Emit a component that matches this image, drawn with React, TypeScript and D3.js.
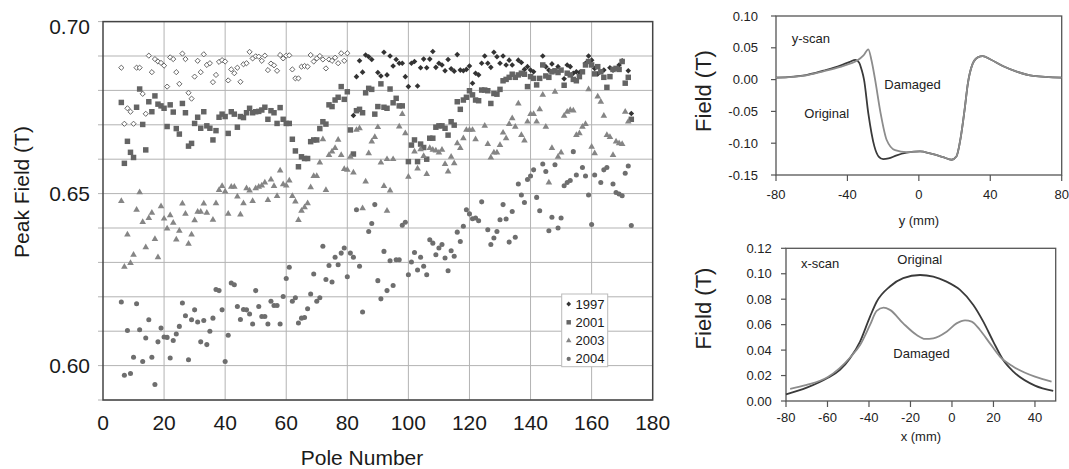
import React from "react";
import * as d3 from "d3";

const FONT = '"Liberation Sans", Arial, Helvetica, sans-serif';

// ---------- Left chart: Peak field vs pole number ----------
const yearLabels = ["1997", "2001", "2003", "2004"];

const field1997Open: [number, number][] = [
  [6, 0.6866], [7, 0.6703], [8, 0.6748], [9, 0.6738], [10, 0.6703], [11, 0.6866], [12, 0.6866], [13, 0.679],
  [14, 0.6732], [15, 0.6901], [16, 0.6853], [17, 0.6891], [18, 0.6884], [19, 0.688], [20, 0.6872], [21, 0.6811],
  [22, 0.6896], [23, 0.6891], [24, 0.6853], [25, 0.6819], [26, 0.6907], [27, 0.6891], [28, 0.6793], [29, 0.6776],
  [30, 0.684], [31, 0.6886], [32, 0.6853], [33, 0.6905], [34, 0.6874], [35, 0.6879], [36, 0.6824], [37, 0.6845],
  [38, 0.6883], [39, 0.6888], [40, 0.6884], [41, 0.6829], [42, 0.6861], [43, 0.685], [44, 0.6866], [45, 0.6825],
  [46, 0.6876], [47, 0.6879], [48, 0.6912], [49, 0.6893], [50, 0.6899], [51, 0.6898], [52, 0.6886], [53, 0.6901],
  [54, 0.6859], [55, 0.6878], [56, 0.6873], [57, 0.6857], [58, 0.6903], [59, 0.6893], [60, 0.6901], [61, 0.6902],
  [62, 0.6861], [63, 0.6835], [64, 0.6835], [65, 0.6869], [66, 0.6871], [67, 0.6869], [68, 0.6903], [69, 0.6884],
  [70, 0.6893], [71, 0.69], [72, 0.689], [73, 0.6864], [74, 0.689], [75, 0.6886], [76, 0.6895], [77, 0.6879],
  [78, 0.6908], [79, 0.6886], [80, 0.6908],
];

const field1997: [number, number][] = [
  [82, 0.6727], [83, 0.684], [84, 0.6886], [85, 0.6853], [86, 0.6903], [87, 0.6898], [88, 0.689], [90, 0.6852],
  [91, 0.6842], [92, 0.6911], [93, 0.6845], [94, 0.69], [95, 0.6871], [96, 0.689], [97, 0.6879], [98, 0.6879],
  [99, 0.684], [100, 0.6811], [101, 0.6879], [102, 0.6884], [103, 0.6813], [104, 0.6866], [105, 0.6891], [106, 0.6866],
  [107, 0.6891], [108, 0.6913], [109, 0.6867], [110, 0.6879], [111, 0.6874], [112, 0.6857], [113, 0.689], [114, 0.6863],
  [115, 0.6856], [116, 0.6904], [117, 0.6859], [118, 0.6857], [119, 0.6861], [120, 0.6871], [121, 0.6821], [122, 0.685],
  [123, 0.6845], [124, 0.6879], [125, 0.69], [126, 0.6879], [127, 0.6867], [128, 0.6911], [129, 0.6898], [130, 0.6879],
  [131, 0.69], [132, 0.6874], [133, 0.6888], [134, 0.6874], [136, 0.6888], [137, 0.6881], [138, 0.6861], [139, 0.6869],
  [140, 0.6859], [141, 0.6854], [144, 0.69], [145, 0.6869], [146, 0.6859], [147, 0.6877], [149, 0.6869], [151, 0.6834],
  [152, 0.6874], [153, 0.6869], [154, 0.685], [155, 0.6854], [156, 0.6852], [158, 0.6879], [159, 0.69], [160, 0.6888],
  [161, 0.6864], [162, 0.6848], [164, 0.6859], [166, 0.6866], [167, 0.6859], [169, 0.6874], [170, 0.6886], [172, 0.6857],
  [173, 0.6733],
];

const field2001: [number, number][] = [
  [6, 0.6765], [7, 0.6588], [8, 0.6652], [9, 0.662], [10, 0.6605], [11, 0.6751], [12, 0.6804], [13, 0.6701],
  [14, 0.6627], [15, 0.6767], [16, 0.6738], [17, 0.6784], [18, 0.676], [19, 0.6755], [20, 0.6748], [21, 0.6695],
  [22, 0.6758], [23, 0.6737], [24, 0.6689], [25, 0.6673], [26, 0.6762], [27, 0.6735], [28, 0.6638], [29, 0.6646],
  [30, 0.6704], [31, 0.6722], [32, 0.669], [33, 0.6738], [34, 0.6697], [35, 0.669], [36, 0.6656], [37, 0.6683],
  [38, 0.6722], [39, 0.6731], [40, 0.6724], [41, 0.6675], [42, 0.6738], [43, 0.6731], [44, 0.6693], [45, 0.6724],
  [46, 0.6721], [47, 0.6735], [48, 0.6748], [49, 0.6735], [50, 0.6738], [51, 0.6739], [52, 0.6743], [53, 0.6751],
  [54, 0.6716], [55, 0.6741], [56, 0.6735], [57, 0.6704], [58, 0.675], [59, 0.6716], [60, 0.6704], [61, 0.6704],
  [62, 0.6658], [63, 0.6624], [64, 0.6578], [65, 0.6607], [66, 0.6602], [67, 0.6602], [68, 0.6651], [69, 0.6656],
  [70, 0.6656], [71, 0.6689], [72, 0.6709], [73, 0.6702], [74, 0.6758], [75, 0.6753], [76, 0.6772], [77, 0.678],
  [78, 0.6811], [79, 0.6774], [80, 0.6796], [81, 0.6685], [82, 0.6615], [83, 0.6741], [84, 0.6745], [85, 0.6735],
  [86, 0.6793], [87, 0.6806], [88, 0.6803], [89, 0.6731], [90, 0.6753], [91, 0.6819], [92, 0.6751], [93, 0.6748],
  [94, 0.6804], [95, 0.6764], [96, 0.6777], [97, 0.6755], [98, 0.6755], [100, 0.6593], [101, 0.6641], [102, 0.6656],
  [103, 0.6593], [104, 0.6644], [105, 0.6634], [106, 0.66], [107, 0.6661], [108, 0.6661], [109, 0.6693], [110, 0.6697],
  [111, 0.6697], [112, 0.669], [113, 0.667], [114, 0.6709], [115, 0.6699], [116, 0.6767], [117, 0.6745], [118, 0.6772],
  [119, 0.678], [120, 0.6799], [121, 0.6787], [122, 0.6772], [123, 0.677], [124, 0.6801], [125, 0.6801], [126, 0.6799],
  [127, 0.6762], [128, 0.6791], [129, 0.6789], [130, 0.6803], [131, 0.6828], [132, 0.6832], [133, 0.6838], [134, 0.6847],
  [135, 0.6838], [136, 0.6845], [137, 0.685], [138, 0.6847], [139, 0.6811], [140, 0.684], [141, 0.6835], [142, 0.6816],
  [143, 0.6835], [144, 0.6874], [145, 0.6842], [146, 0.6838], [147, 0.6854], [148, 0.6857], [149, 0.6852], [150, 0.6859],
  [151, 0.6815], [152, 0.685], [153, 0.6845], [154, 0.6832], [155, 0.6828], [156, 0.684], [157, 0.6854], [158, 0.6874],
  [159, 0.6884], [160, 0.6874], [161, 0.6848], [162, 0.6869], [163, 0.6854], [164, 0.6838], [165, 0.6809], [166, 0.684],
  [167, 0.6861], [168, 0.6864], [169, 0.6861], [170, 0.6884], [171, 0.6821], [172, 0.6838], [173, 0.6716],
];

const field2003: [number, number][] = [
  [6, 0.6478], [7, 0.6287], [8, 0.6381], [9, 0.6298], [10, 0.6322], [11, 0.6453], [12, 0.6504], [13, 0.6417],
  [14, 0.6344], [15, 0.6429], [16, 0.6444], [17, 0.6368], [18, 0.6315], [19, 0.6463], [20, 0.6427], [21, 0.6398],
  [22, 0.6437], [23, 0.6415], [24, 0.6366], [25, 0.6392], [26, 0.6471], [27, 0.6441], [28, 0.6354], [29, 0.6381],
  [30, 0.6422], [31, 0.6447], [32, 0.6447], [33, 0.6471], [34, 0.6444], [36, 0.6424], [37, 0.6472], [38, 0.651],
  [39, 0.6522], [40, 0.6506], [41, 0.6441], [42, 0.652], [43, 0.652], [44, 0.6491], [45, 0.6439], [46, 0.6472],
  [47, 0.6515], [48, 0.6509], [49, 0.6478], [50, 0.6515], [51, 0.652], [52, 0.6523], [53, 0.6532], [54, 0.6481],
  [55, 0.6541], [56, 0.6522], [57, 0.6493], [58, 0.6567], [59, 0.6527], [60, 0.6523], [61, 0.6538], [62, 0.6493],
  [63, 0.6477], [64, 0.6423], [65, 0.645], [66, 0.646], [67, 0.6472], [68, 0.6518], [69, 0.6551], [70, 0.6551],
  [71, 0.659], [72, 0.6658], [73, 0.651], [74, 0.6612], [75, 0.6622], [76, 0.6632], [77, 0.6656], [78, 0.6612],
  [79, 0.6571], [80, 0.6569], [81, 0.6607], [82, 0.6561], [83, 0.6685], [84, 0.669], [85, 0.6457], [86, 0.6535],
  [87, 0.6617], [88, 0.6651], [89, 0.6664], [90, 0.6693], [91, 0.659], [92, 0.6522], [93, 0.66], [93, 0.645],
  [94, 0.6509], [95, 0.66], [97, 0.6695], [98, 0.6731], [99, 0.6675], [100, 0.6549], [102, 0.6622], [103, 0.6573],
  [104, 0.6629], [105, 0.6609], [106, 0.6557], [107, 0.6632], [108, 0.6627], [109, 0.6625], [110, 0.6619], [111, 0.6627],
  [112, 0.6586], [113, 0.6564], [114, 0.6607], [115, 0.6588], [116, 0.6646], [117, 0.6632], [118, 0.6661], [119, 0.6685],
  [120, 0.6685], [121, 0.6685], [122, 0.6658], [125, 0.6697], [126, 0.6644], [127, 0.6605], [128, 0.6619], [129, 0.6619],
  [130, 0.6641], [131, 0.6677], [132, 0.6661], [133, 0.6702], [134, 0.6719], [135, 0.6694], [136, 0.6762], [137, 0.667],
  [138, 0.6654], [139, 0.6709], [140, 0.6731], [141, 0.6731], [142, 0.6709], [143, 0.6745], [144, 0.6787], [145, 0.6694],
  [146, 0.6532], [147, 0.6632], [148, 0.6796], [149, 0.6607], [150, 0.6619], [151, 0.6726], [152, 0.6738], [153, 0.6743],
  [154, 0.6741], [155, 0.667], [156, 0.6675], [157, 0.6694], [158, 0.6702], [159, 0.6803], [160, 0.6636], [161, 0.6617],
  [162, 0.6782], [163, 0.6767], [164, 0.6726], [165, 0.667], [166, 0.6664], [167, 0.6612], [168, 0.6651], [169, 0.6646],
  [170, 0.6644], [171, 0.6738], [172, 0.6709],
];

const field2004: [number, number][] = [
  [6, 0.6185], [7, 0.5972], [8, 0.6102], [9, 0.5977], [10, 0.6024], [11, 0.618], [12, 0.6104], [13, 0.6012],
  [14, 0.608], [15, 0.6133], [16, 0.6024], [17, 0.5945], [18, 0.6069], [19, 0.6109], [20, 0.6083], [21, 0.6082],
  [22, 0.6022], [23, 0.6073], [24, 0.6092], [25, 0.6114], [26, 0.6182], [27, 0.6145], [28, 0.6017], [29, 0.6133],
  [30, 0.6162], [31, 0.6127], [32, 0.6069], [33, 0.6131], [34, 0.6061], [35, 0.61], [36, 0.6138], [37, 0.6221],
  [38, 0.6218], [39, 0.6162], [40, 0.6012], [41, 0.6088], [42, 0.624], [43, 0.6235], [44, 0.6172], [45, 0.6134],
  [46, 0.6163], [47, 0.6162], [48, 0.615], [49, 0.6121], [50, 0.6218], [51, 0.6172], [52, 0.6143], [53, 0.6143],
  [54, 0.6121], [55, 0.6187], [56, 0.6175], [57, 0.6175], [58, 0.6121], [59, 0.6201], [60, 0.6253], [61, 0.6286],
  [62, 0.6187], [63, 0.6197], [64, 0.6124], [65, 0.6138], [66, 0.614], [67, 0.6165], [68, 0.6208], [69, 0.6266],
  [70, 0.6187], [71, 0.6197], [72, 0.6347], [73, 0.625], [74, 0.6291], [75, 0.6243], [76, 0.6315], [77, 0.6293],
  [78, 0.6327], [79, 0.6342], [80, 0.6258], [81, 0.6327], [82, 0.6315], [83, 0.6453], [84, 0.6289], [85, 0.6156],
  [87, 0.639], [88, 0.6413], [89, 0.6468], [90, 0.6247], [91, 0.6194], [92, 0.6332], [93, 0.6218], [94, 0.6305],
  [95, 0.6233], [96, 0.6308], [97, 0.6308], [98, 0.6408], [99, 0.6417], [100, 0.6264], [101, 0.6301], [102, 0.6329],
  [103, 0.6278], [104, 0.6315], [105, 0.6289], [106, 0.6264], [107, 0.6366], [108, 0.6356], [109, 0.6322], [110, 0.6342],
  [111, 0.6352], [112, 0.6313], [113, 0.6276], [114, 0.6334], [115, 0.6318], [116, 0.6388], [117, 0.6361], [118, 0.6405],
  [119, 0.6453], [120, 0.6441], [121, 0.6427], [122, 0.6429], [123, 0.6421], [124, 0.6476], [126, 0.6395], [127, 0.6352],
  [128, 0.6371], [129, 0.639], [130, 0.6424], [131, 0.6468], [132, 0.6426], [133, 0.6359], [134, 0.6448], [135, 0.6373],
  [136, 0.6528], [137, 0.6496], [138, 0.6474], [139, 0.6541], [140, 0.6551], [141, 0.6569], [142, 0.6489], [143, 0.645],
  [144, 0.6586], [145, 0.6564], [146, 0.6392], [147, 0.6431], [148, 0.6584], [149, 0.64], [150, 0.6429], [151, 0.6523],
  [152, 0.6532], [153, 0.6538], [154, 0.6622], [155, 0.6554], [157, 0.6576], [158, 0.6551], [159, 0.6496], [160, 0.641],
  [161, 0.6554], [163, 0.6532], [164, 0.6569], [165, 0.6576], [167, 0.6528], [168, 0.6503], [169, 0.6499], [170, 0.6494],
  [171, 0.6559], [172, 0.658], [173, 0.6407],
];

const leftYLabels = [0.6, 0.65, 0.7];

// ---------- Right top: y-scan ----------
const yScanOriginal: [number, number][] = [
  [-80, 0.003], [-63, 0.0072], [-53.5, 0.014], [-44, 0.022], [-38.6, 0.028], [-35.5, 0.031], [-33.5, 0.027],
  [-32, 0.015], [-30.7, 0.0], [-28.3, -0.053], [-24.9, -0.105], [-22.5, -0.121], [-20, -0.125], [-17, -0.124],
  [-12.4, -0.119], [-6.8, -0.115], [0.7, -0.113], [6.3, -0.116], [13.7, -0.122], [18.4, -0.126], [21, -0.121],
  [23.5, -0.09], [25.5, -0.05], [27.5, -0.005], [30, 0.024], [33, 0.035], [35.8, 0.037], [39.9, 0.032],
  [47.3, 0.021], [54.8, 0.0125], [64.1, 0.0057], [80, 0.003],
];
const yScanDamaged: [number, number][] = [
  [-80, 0.003], [-63, 0.0068], [-53.5, 0.013], [-44, 0.02], [-38.6, 0.025], [-34.5, 0.03], [-31, 0.038],
  [-28.3, 0.0476], [-26.5, 0.03], [-24.5, 0.0], [-21.4, -0.053], [-18, -0.095], [-13.3, -0.111], [-6.8, -0.114],
  [0.7, -0.113], [6.3, -0.116], [13.7, -0.122], [18.4, -0.126], [21, -0.121], [23.5, -0.09], [25.5, -0.05],
  [27.5, -0.005], [30, 0.024], [33, 0.035], [35.8, 0.037], [39.9, 0.032], [47.3, 0.021], [54.8, 0.0125],
  [64.1, 0.0057], [80, 0.003],
];
const yScanYTicks = [-0.15, -0.1, -0.05, 0, 0.05, 0.1];
const yScanXTicks = [-80, -40, 0, 40, 80];

// ---------- Right bottom: x-scan ----------
const xScanOriginal: [number, number][] = [
  [-80, 0.0052], [-70, 0.0105], [-59.8, 0.0183], [-54, 0.0244], [-49.2, 0.0335], [-44.3, 0.0467], [-39.5, 0.0663],
  [-36.3, 0.078], [-29.9, 0.09], [-23.5, 0.0965], [-15.4, 0.099], [-9, 0.0978], [-2.6, 0.0938], [3.9, 0.0873],
  [10.3, 0.0755], [15.1, 0.0624], [19.9, 0.0467], [24.7, 0.0322], [29.6, 0.0231], [40, 0.0121], [48.8, 0.0079],
];
const xScanDamaged: [number, number][] = [
  [-78, 0.0095], [-70, 0.0126], [-59.8, 0.0189], [-49.2, 0.034], [-44.3, 0.044], [-39.5, 0.0598], [-36.3, 0.0708],
  [-33, 0.0734], [-29.9, 0.0716], [-23.5, 0.061], [-17, 0.0519], [-13, 0.0488], [-9, 0.0493], [-2.6, 0.0545],
  [2.2, 0.061], [6.3, 0.0634], [9.5, 0.0624], [13.5, 0.0558], [18.3, 0.0453], [23.1, 0.0349], [29.6, 0.027],
  [40, 0.0191], [48, 0.0152],
];
const xScanYTicks = [0, 0.02, 0.04, 0.06, 0.08, 0.1, 0.12];
const xScanXTicks = [-80, -60, -40, -20, 0, 20, 40];

const diamondPath = (r: number) => `M0,${-r}L${r},0L0,${r}L${-r},0Z`;

function LeftChart() {
  const x = d3.scaleLinear().domain([0, 180]).range([103, 652.7]);
  const y = d3.scaleLinear().domain([0.59, 0.7]).range([400, 21.6]);
  const yGrid = y.ticks(11);
  const xGrid = x.ticks(9);
  const sq = d3.symbol(d3.symbolSquare, 30)()!;
  const tri = d3.symbol(d3.symbolTriangle, 19)()!;
  const circ = d3.symbol(d3.symbolCircle, 20)()!;
  const dia = diamondPath(2.8);
  const diaOpen = diamondPath(2.6);
  const legendRows = [
    { label: yearLabels[0], path: diamondPath(2.4), fill: "#333" },
    { label: yearLabels[1], path: d3.symbol(d3.symbolSquare, 20)()!, fill: "#666" },
    { label: yearLabels[2], path: d3.symbol(d3.symbolTriangle, 13)()!, fill: "#858585" },
    { label: yearLabels[3], path: d3.symbol(d3.symbolCircle, 14)()!, fill: "#707070" },
  ];
  return (
    <g fontFamily={FONT}>
      {yGrid.map((v) => (
        <line key={"gy" + v} x1={98} x2={x(180)} y1={y(v)} y2={y(v)} stroke="#b3b3b3" strokeWidth={1} />
      ))}
      {xGrid.slice(1, -1).map((v) => (
        <line key={"gx" + v} x1={x(v)} x2={x(v)} y1={y(0.7)} y2={y(0.59)} stroke="#b3b3b3" strokeWidth={1} />
      ))}
      <rect x={x(0)} y={y(0.7)} width={x(180) - x(0)} height={y(0.59) - y(0.7)} fill="none" stroke="#444" strokeWidth={1.5} />
      {field1997Open.map(([p, v], i) => (
        <path key={"o" + i} d={diaOpen} transform={`translate(${x(p)},${y(v)})`} fill="#fff" stroke="#555" strokeWidth={0.9} />
      ))}
      {field1997.map(([p, v], i) => (
        <path key={"a" + i} d={dia} transform={`translate(${x(p)},${y(v)})`} fill="#333" />
      ))}
      {field2001.map(([p, v], i) => (
        <path key={"b" + i} d={sq} transform={`translate(${x(p)},${y(v)})`} fill="#646464" />
      ))}
      {field2003.map(([p, v], i) => (
        <path key={"c" + i} d={tri} transform={`translate(${x(p)},${y(v)})`} fill="#858585" />
      ))}
      {field2004.map(([p, v], i) => (
        <path key={"d" + i} d={circ} transform={`translate(${x(p)},${y(v)})`} fill="#6e6e6e" />
      ))}
      {leftYLabels.map((v) => (
        <text key={"yl" + v} x={90} y={y(v) + (v >= 0.7 ? 12 : 7)} textAnchor="end" fontSize={21} fill="#1a1a1a">
          {v.toFixed(2)}
        </text>
      ))}
      {xGrid.map((v) => (
        <text key={"xl" + v} x={x(v)} y={430} textAnchor="middle" fontSize={21} fill="#1a1a1a">
          {v}
        </text>
      ))}
      <text x={362} y={465} textAnchor="middle" fontSize={21} fill="#1a1a1a">Pole Number</text>
      <text transform="translate(29,192) rotate(-90)" textAnchor="middle" fontSize={21} fill="#1a1a1a">Peak Field (T)</text>
      <rect x={561.7} y={294} width={46} height={72.7} fill="#fff" stroke="#bbb" strokeWidth={1} />
      {legendRows.map((r, i) => (
        <g key={r.label} transform={`translate(0,${304 + i * 18.3})`}>
          <path d={r.path} transform="translate(568.7,0)" fill={r.fill} />
          <text x={575.5} y={4.5} fontSize={13} fill="#1a1a1a">{r.label}</text>
        </g>
      ))}
    </g>
  );
}

type ScanProps = {
  xDomain: [number, number];
  yDomain: [number, number];
  xRange: [number, number];
  yRange: [number, number];
  xTicks: number[];
  yTicks: number[];
  original: [number, number][];
  damaged: [number, number][];
  yLabelX: number;
  xLabelY: number;
  axisLabel: string;
  axisLabelY: number;
  fieldY: number;
  notes: { text: string; x: number; y: number }[];
};

function ScanChart(p: ScanProps) {
  const x = d3.scaleLinear().domain(p.xDomain).range(p.xRange);
  const y = d3.scaleLinear().domain(p.yDomain).range(p.yRange);
  const line = d3
    .line<[number, number]>()
    .x((d) => x(d[0]))
    .y((d) => y(d[1]))
    .curve(d3.curveMonotoneX);
  const [x0, x1] = p.xRange;
  const [yb, yt] = p.yRange;
  return (
    <g fontFamily={FONT}>
      <rect x={x0} y={yt} width={x1 - x0} height={yb - yt} fill="none" stroke="#555" strokeWidth={1.3} />
      {p.yTicks.map((v) => (
        <g key={"yt" + v}>
          <line x1={x0 - 5} x2={x0} y1={y(v)} y2={y(v)} stroke="#555" strokeWidth={1.2} />
          <text x={p.yLabelX} y={y(v) + 4.5} textAnchor="end" fontSize={13} fill="#222">
            {v.toFixed(2)}
          </text>
        </g>
      ))}
      {p.xTicks.map((v) => (
        <g key={"xt" + v}>
          <line x1={x(v)} x2={x(v)} y1={yb} y2={yb + 6} stroke="#555" strokeWidth={1.2} />
          <text x={x(v)} y={p.xLabelY} textAnchor="middle" fontSize={13} fill="#222">
            {v}
          </text>
        </g>
      ))}
      <path d={line(p.original)!} fill="none" stroke="#3a3a3a" strokeWidth={1.8} />
      <path d={line(p.damaged)!} fill="none" stroke="#8c8c8c" strokeWidth={1.8} />
      <text x={(x0 + x1) / 2} y={p.axisLabelY} textAnchor="middle" fontSize={13} fill="#222">
        {p.axisLabel}
      </text>
      <text transform={`translate(711,${p.fieldY}) rotate(-90)`} textAnchor="middle" fontSize={22} fill="#222">
        Field (T)
      </text>
      {p.notes.map((n) => (
        <text key={n.text} x={n.x} y={n.y} fontSize={13} fill="#222">
          {n.text}
        </text>
      ))}
    </g>
  );
}

export default function App() {
  return (
    <svg
      width={1069}
      height={469}
      viewBox="0 0 1069 469"
      style={{ position: "absolute", left: 0, top: 0, background: "#fff" }}
    >
      <rect width={1069} height={469} fill="#fff" />
      <LeftChart />
      <ScanChart
        xDomain={[-80, 80]}
        yDomain={[-0.15, 0.1]}
        xRange={[776, 1061.7]}
        yRange={[175, 16]}
        xTicks={yScanXTicks}
        yTicks={yScanYTicks}
        original={yScanOriginal}
        damaged={yScanDamaged}
        yLabelX={758}
        xLabelY={198.5}
        axisLabel="y (mm)"
        axisLabelY={224.5}
        fieldY={91}
        notes={[
          { text: "y-scan", x: 791.7, y: 42.5 },
          { text: "Damaged", x: 884.3, y: 88.5 },
          { text: "Original", x: 804.3, y: 117.5 },
        ]}
      />
      <ScanChart
        xDomain={[-80, 50]}
        yDomain={[0, 0.12]}
        xRange={[786, 1055.7]}
        yRange={[401, 248.3]}
        xTicks={xScanXTicks}
        yTicks={xScanYTicks}
        original={xScanOriginal}
        damaged={xScanDamaged}
        yLabelX={771.7}
        xLabelY={422}
        axisLabel="x (mm)"
        axisLabelY={441}
        fieldY={308.5}
        notes={[
          { text: "x-scan", x: 801, y: 268.3 },
          { text: "Original", x: 897.3, y: 264.3 },
          { text: "Damaged", x: 893.3, y: 358.3 },
        ]}
      />
    </svg>
  );
}
